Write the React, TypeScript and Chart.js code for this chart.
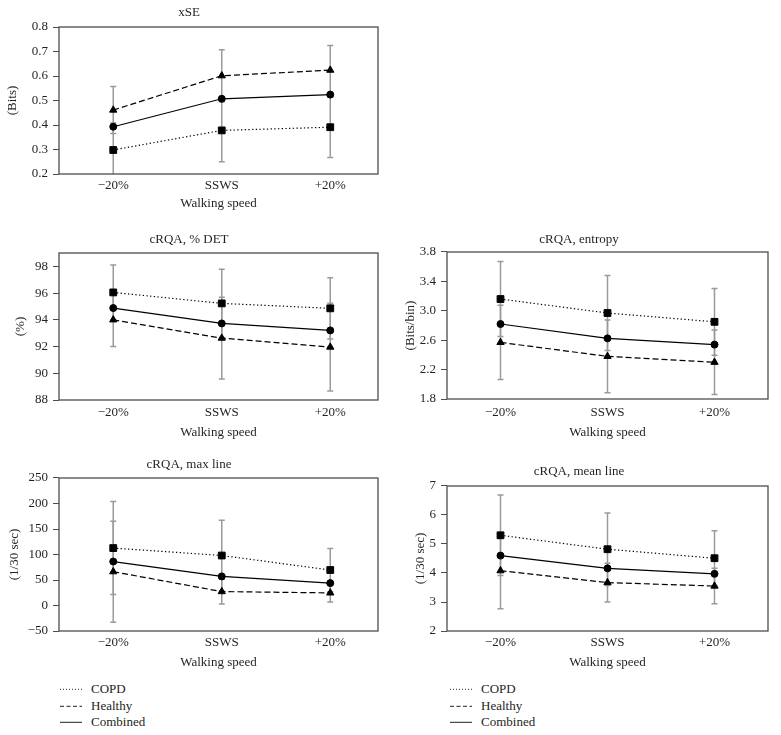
import React, { useEffect, useRef } from "react";
import { Chart, registerables } from "chart.js";
Chart.register(...registerables);

// ---------------- DATA ----------------
const categories = ["\u221220%", "SSWS", "+20%"];
const xAxisTitle = "Walking speed";
const seriesNames = ["COPD", "Healthy", "Combined"];

// xSE (Bits)
const xseCOPD = [0.298, 0.378, 0.391];
const xseCOPDErr = [0.11, 0.128, 0.124];
const xseHealthy = [0.461, 0.601, 0.624];
const xseHealthyErr = [0.096, 0.106, 0.101];
const xseCombined = [0.393, 0.507, 0.524];
const xseTicks = [0.2, 0.3, 0.4, 0.5, 0.6, 0.7, 0.8];

// cRQA, % DET (%)
const detCOPD = [96.05, 95.23, 94.86];
const detCOPDErr = [2.05, 2.55, 2.29];
const detHealthy = [94.0, 92.63, 91.96];
const detHealthyErr = [2.0, 3.05, 3.28];
const detCombined = [94.88, 93.73, 93.21];
const detTicks = [88, 90, 92, 94, 96, 98];
const detRange = [88, 99];

// cRQA, entropy (Bits/bin)
const entCOPD = [3.16, 2.97, 2.85];
const entCOPDErr = [0.51, 0.51, 0.455];
const entHealthy = [2.57, 2.38, 2.3];
const entHealthyErr = [0.505, 0.495, 0.44];
const entCombined = [2.82, 2.625, 2.54];
const entTicks = [1.8, 2.2, 2.6, 3.0, 3.4, 3.8];

// cRQA, max line (1/30 sec)
const maxCOPD = [112.6, 98, 69.6];
const maxCOPDErr = [91.2, 69.4, 42.4];
const maxHealthy = [66.3, 27.3, 24.7];
const maxHealthyErr = [99, 24.4, 17.9];
const maxCombined = [86.2, 57.1, 43.9];
const maxTicks = [-50, 0, 50, 100, 150, 200, 250];

// cRQA, mean line (1/30 sec)
const meanCOPD = [5.3, 4.82, 4.51];
const meanCOPDErr = [1.39, 1.25, 0.95];
const meanHealthy = [4.08, 3.67, 3.55];
const meanHealthyErr = [1.31, 0.67, 0.61];
const meanCombined = [4.6, 4.16, 3.97];
const meanTicks = [2, 3, 4, 5, 6, 7];

// ---------------- STYLE ----------------
const FONT = "'Liberation Serif', 'Times New Roman', serif";
const FS = 13;
const LH = FS * 1.2;
const TEXT = "#231f20";
const ERR = "#9a9a9a";
const BOX = "#4d4d4d";

type PanelCfg = {
  title: string;
  yTitle: string;
  copd: number[];
  copdErr: number[];
  healthy: number[];
  healthyErr: number[];
  combined: number[];
  ticks: number[];
  range: number[];
  decimals: number;
  lay: {
    x: number; top: number; w: number; h: number;
    boxLeft: number; boxRight: number; boxTop: number; boxBottom: number;
    titleY: number; tickY: number; wsY: number; yTitleX: number;
    xMin: number; xMax: number;
  };
};

const panels: PanelCfg[] = [
  {
    title: "xSE", yTitle: "(Bits)",
    copd: xseCOPD, copdErr: xseCOPDErr, healthy: xseHealthy, healthyErr: xseHealthyErr, combined: xseCombined,
    ticks: xseTicks, range: [xseTicks[0], xseTicks[xseTicks.length - 1]], decimals: 1,
    lay: { x: 0, top: 0, w: 390, h: 214, boxLeft: 59, boxRight: 378, boxTop: 27, boxBottom: 174,
      titleY: 13, tickY: 186, wsY: 204, yTitleX: 13, xMin: -0.5, xMax: 2.44 },
  },
  {
    title: "cRQA, % DET", yTitle: "(%)",
    copd: detCOPD, copdErr: detCOPDErr, healthy: detHealthy, healthyErr: detHealthyErr, combined: detCombined,
    ticks: detTicks, range: detRange, decimals: 0,
    lay: { x: 0, top: 222, w: 390, h: 221, boxLeft: 59, boxRight: 378, boxTop: 253, boxBottom: 400,
      titleY: 240, tickY: 413, wsY: 433, yTitleX: 21, xMin: -0.5, xMax: 2.44 },
  },
  {
    title: "cRQA, entropy", yTitle: "(Bits/bin)",
    copd: entCOPD, copdErr: entCOPDErr, healthy: entHealthy, healthyErr: entHealthyErr, combined: entCombined,
    ticks: entTicks, range: [entTicks[0], entTicks[entTicks.length - 1]], decimals: 1,
    lay: { x: 390, top: 222, w: 391, h: 221, boxLeft: 447, boxRight: 768, boxTop: 252, boxBottom: 399,
      titleY: 240, tickY: 413, wsY: 433, yTitleX: 411, xMin: -0.5, xMax: 2.5 },
  },
  {
    title: "cRQA, max line", yTitle: "(1/30 sec)",
    copd: maxCOPD, copdErr: maxCOPDErr, healthy: maxHealthy, healthyErr: maxHealthyErr, combined: maxCombined,
    ticks: maxTicks, range: [maxTicks[0], maxTicks[maxTicks.length - 1]], decimals: 0,
    lay: { x: 0, top: 448, w: 390, h: 225, boxLeft: 59, boxRight: 378, boxTop: 478, boxBottom: 631,
      titleY: 465, tickY: 643, wsY: 663, yTitleX: 15, xMin: -0.5, xMax: 2.44 },
  },
  {
    title: "cRQA, mean line", yTitle: "(1/30 sec)",
    copd: meanCOPD, copdErr: meanCOPDErr, healthy: meanHealthy, healthyErr: meanHealthyErr, combined: meanCombined,
    ticks: meanTicks, range: [meanTicks[0], meanTicks[meanTicks.length - 1]], decimals: 0,
    lay: { x: 390, top: 448, w: 391, h: 225, boxLeft: 447, boxRight: 768, boxTop: 486, boxBottom: 631,
      titleY: 472, tickY: 643, wsY: 663, yTitleX: 421, xMin: -0.5, xMax: 2.5 },
  },
];

const pts = (vals: number[]) => vals.map((v, i) => ({ x: i, y: v }));

function Panel({ cfg }: { cfg: PanelCfg }) {
  const ref = useRef<HTMLCanvasElement | null>(null);
  useEffect(() => {
    const canvas = ref.current;
    if (!canvas) return;
    const L = cfg.lay;
    const font = { family: FONT, size: FS, weight: "normal" as const, lineHeight: 1.2 };

    const errSets = [
      { vals: cfg.copd, errs: cfg.copdErr },
      { vals: cfg.healthy, errs: cfg.healthyErr },
    ];

    const errorBarPlugin = {
      id: "errorBarsLocal",
      beforeDatasetsDraw(chart: any) {
        const { ctx, chartArea, scales } = chart;
        const xs = scales.x, ys = scales.y;
        ctx.save();
        ctx.beginPath();
        ctx.rect(chartArea.left, chartArea.top, chartArea.right - chartArea.left, chartArea.bottom - chartArea.top);
        ctx.clip();
        ctx.strokeStyle = ERR;
        ctx.lineWidth = 1.5;
        errSets.forEach((s) => {
          s.vals.forEach((v, i) => {
            const px = xs.getPixelForValue(i);
            const yHi = ys.getPixelForValue(v + s.errs[i]);
            const yLo = ys.getPixelForValue(v - s.errs[i]);
            ctx.beginPath();
            ctx.moveTo(px, yHi);
            ctx.lineTo(px, yLo);
            ctx.moveTo(px - 3, yHi);
            ctx.lineTo(px + 3, yHi);
            ctx.moveTo(px - 3, yLo);
            ctx.lineTo(px + 3, yLo);
            ctx.stroke();
          });
        });
        ctx.restore();
      },
    };

    const boxPlugin = {
      id: "plotBoxLocal",
      afterDraw(chart: any) {
        const { ctx, chartArea } = chart;
        ctx.save();
        ctx.strokeStyle = BOX;
        ctx.lineWidth = 1.3;
        ctx.strokeRect(chartArea.left, chartArea.top, chartArea.right - chartArea.left, chartArea.bottom - chartArea.top);
        ctx.restore();
      },
    };

    const fmt = (v: number) => {
      const s = Number(v).toFixed(cfg.decimals);
      return s.replace("-", "\u2212");
    };

    const common = {
      borderColor: "#000",
      borderWidth: 1.2,
      pointBackgroundColor: "#000",
      pointBorderColor: "#000",
      pointBorderWidth: 1,
      tension: 0,
      fill: false,
    };

    const chart = new Chart(canvas, {
      type: "line",
      data: {
        datasets: [
          { ...common, label: seriesNames[0], data: pts(cfg.copd), borderDash: [1.3, 2.4], pointStyle: "rect", pointRadius: 4.8 },
          { ...common, label: seriesNames[1], data: pts(cfg.healthy), borderDash: [6, 3], pointStyle: "triangle", pointRadius: 4.2 },
          { ...common, label: seriesNames[2], data: pts(cfg.combined), pointStyle: "circle", pointRadius: 3.5 },
        ] as any,
      },
      options: {
        animation: false,
        responsive: false,
        events: [],
        layout: { padding: { left: 0, top: 0, bottom: 0, right: L.x + L.w - L.boxRight } },
        plugins: {
          legend: { display: false },
          tooltip: { enabled: false },
          title: {
            display: true,
            text: cfg.title,
            color: TEXT,
            font,
            padding: { top: L.titleY - LH / 2 - L.top, bottom: L.boxTop - L.titleY - LH / 2 },
          },
        },
        scales: {
          x: {
            type: "linear",
            min: L.xMin,
            max: L.xMax,
            afterBuildTicks: (s: any) => {
              s.ticks = categories.map((_, i) => ({ value: i }));
            },
            afterFit: (s: any) => {
              s.height = L.top + L.h - L.boxBottom;
            },
            ticks: {
              color: TEXT,
              font,
              padding: L.tickY - L.boxBottom - LH / 2,
              autoSkip: false,
              maxRotation: 0,
              callback: (v: any) => categories[Math.round(Number(v))] ?? "",
            },
            grid: { display: false, drawTicks: false },
            border: { display: false },
            title: {
              display: true,
              text: xAxisTitle,
              color: TEXT,
              font,
              padding: { top: 0, bottom: L.top + L.h - L.wsY - LH / 2 },
            },
          },
          y: {
            type: "linear",
            min: cfg.range[0],
            max: cfg.range[1],
            afterBuildTicks: (s: any) => {
              s.ticks = cfg.ticks.map((v) => ({ value: v }));
            },
            afterFit: (s: any) => {
              s.width = L.boxLeft - L.x;
            },
            ticks: { color: TEXT, font, padding: 5, callback: (v: any) => fmt(v) },
            grid: { drawOnChartArea: false, drawTicks: true, tickLength: 6, color: BOX, lineWidth: 1 },
            border: { display: false },
            title: {
              display: true,
              text: cfg.yTitle,
              color: TEXT,
              font,
              padding: { top: L.yTitleX - L.x - LH / 2, bottom: 0 },
            },
          },
        },
      } as any,
      plugins: [errorBarPlugin, boxPlugin],
    });
    return () => chart.destroy();
  }, [cfg]);

  const L = cfg.lay;
  return (
    <canvas
      ref={ref}
      width={L.w}
      height={L.h}
      style={{ position: "absolute", left: L.x, top: L.top, width: L.w, height: L.h }}
    />
  );
}

const legendDash = ["1 2", "4 2.5", ""];

function Legend({ x, y }: { x: number; y: number }) {
  const rowsY = [0, 17, 33];
  return (
    <>
      {seriesNames.map((name, i) => (
        <div
          key={name}
          style={{
            position: "absolute",
            left: x,
            top: y + rowsY[i] - LH / 2,
            height: LH,
            lineHeight: `${LH}px`,
            fontFamily: FONT,
            fontSize: FS,
            color: TEXT,
            whiteSpace: "nowrap",
            display: "flex",
            alignItems: "center",
          }}
        >
          <svg width={22} height={LH} style={{ display: "block" }}>
            <line
              x1={0}
              x2={22}
              y1={LH / 2 + 0.5}
              y2={LH / 2 + 0.5}
              stroke={TEXT}
              strokeWidth={1}
              strokeDasharray={legendDash[i] || undefined}
            />
          </svg>
          <span style={{ marginLeft: 9 }}>{name}</span>
        </div>
      ))}
    </>
  );
}

export default function App() {
  return (
    <div style={{ position: "absolute", left: 0, top: 0, width: 781, height: 735, background: "#fff", overflow: "hidden" }}>
      {panels.map((p) => (
        <Panel key={p.title} cfg={p} />
      ))}
      <Legend x={60} y={689} />
      <Legend x={450} y={689} />
    </div>
  );
}
